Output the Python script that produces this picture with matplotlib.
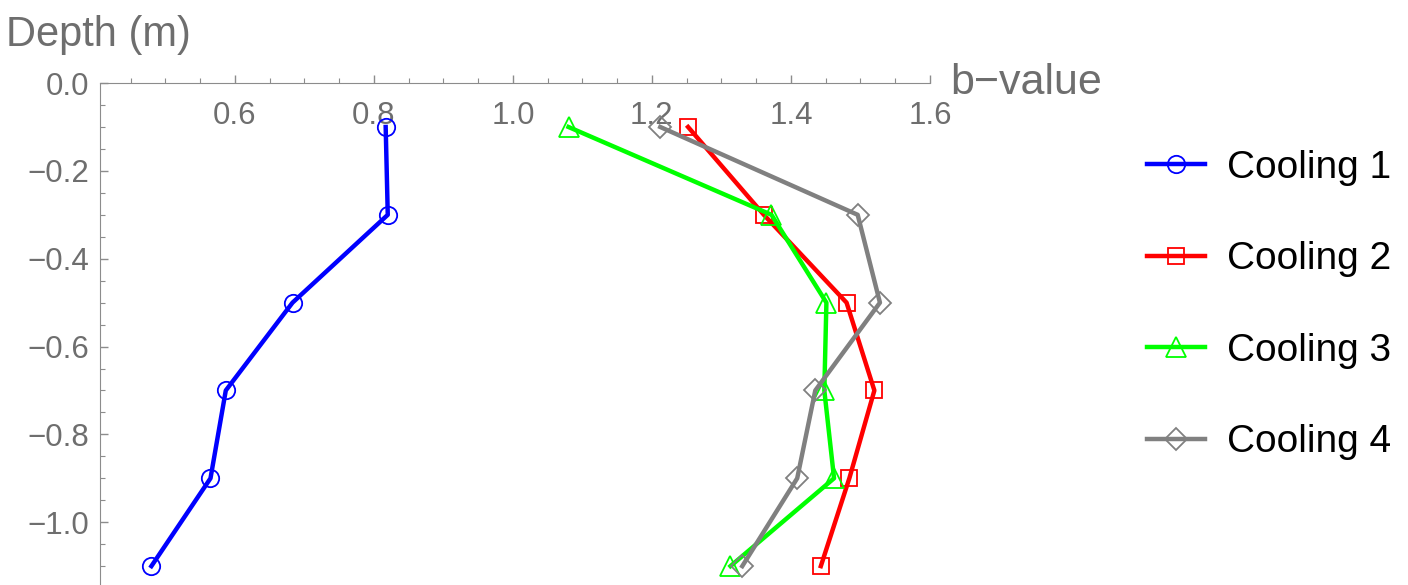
import numpy as np
import matplotlib
matplotlib.use('Agg')
import matplotlib.pyplot as plt
from matplotlib.ticker import MultipleLocator

# depth of the measurements (m)
depth = [-0.1, -0.3, -0.5, -0.7, -0.9, -1.1]

# b-values
cooling_1 = [0.817, 0.820, 0.683, 0.587, 0.565, 0.480]
cooling_2 = [1.252, 1.361, 1.480, 1.520, 1.484, 1.443]
cooling_3 = [1.080, 1.372, 1.451, 1.448, 1.462, 1.313]
cooling_4 = [1.212, 1.496, 1.528, 1.435, 1.409, 1.330]

labels = ['Cooling 1', 'Cooling 2', 'Cooling 3', 'Cooling 4']

plt.rcParams['font.family'] = ['Liberation Sans', 'DejaVu Sans']

fig = plt.figure(figsize=(14.08, 5.85), dpi=100)
ax = fig.add_axes([0.0710, 0.0, 0.5895, 0.858])

styles = [
    ('#0000ff', 'o', 12.5),
    ('#ff0000', 's', 12),
    ('#00ff00', '^', 15),
    ('#808080', 'D', 11),
]

for vals, lab, (col, mk, ms) in zip([cooling_1, cooling_2, cooling_3, cooling_4], labels, styles):
    ax.plot(vals, depth, color=col, lw=3.2, marker=mk, ms=ms, mfc='none',
            mec=col, mew=1.3, label=lab, clip_on=False, zorder=3)

ax.set_xlim(0.406, 1.60)
ax.set_ylim(-1.143, 0.0)

# axes Mathematica style: x axis along depth 0, y axis on the left
for s in ['right', 'top']:
    ax.spines[s].set_visible(False)
ax.spines['bottom'].set_position(('data', 0))
ax.spines['bottom'].set_color('#8c8c8c')
ax.spines['left'].set_color('#8c8c8c')

ax.xaxis.set_major_locator(MultipleLocator(0.2))
ax.xaxis.set_minor_locator(MultipleLocator(0.05))
ax.yaxis.set_major_locator(MultipleLocator(0.2))
ax.yaxis.set_minor_locator(MultipleLocator(0.05))
ax.xaxis.set_major_formatter(plt.FuncFormatter(lambda v, p: '%.1f' % v))
ax.yaxis.set_major_formatter(plt.FuncFormatter(lambda v, p: ('%.1f' % v).replace('-', '\u2212')))

ax.tick_params(axis='both', which='major', direction='in', length=6, width=1,
               color='#8c8c8c', labelcolor='#6e6e6e', labelsize=22.5)
ax.tick_params(axis='x', which='major', pad=13)
ax.tick_params(axis='y', which='major', pad=8)
ax.tick_params(axis='both', which='minor', direction='in', length=3.5, width=0.8,
               color='#8c8c8c')

ax.set_xlabel('b\u2212value', fontsize=31, color='#6e6e6e', ha='left', va='center')
ax.xaxis.set_label_coords(1.025, 1.0)
ax.set_ylabel('Depth (m)', fontsize=30, color='#6e6e6e', rotation=0, ha='left', va='center')
ax.yaxis.set_label_coords(-0.113, 1.096)

fig.legend(loc='upper left', bbox_to_anchor=(0.8005, 0.7775), frameon=False,
           fontsize=28, handlelength=1.5, handletextpad=0.56, labelspacing=1.43,
           borderpad=0, numpoints=1)

plt.savefig('out.png', dpi=100)
